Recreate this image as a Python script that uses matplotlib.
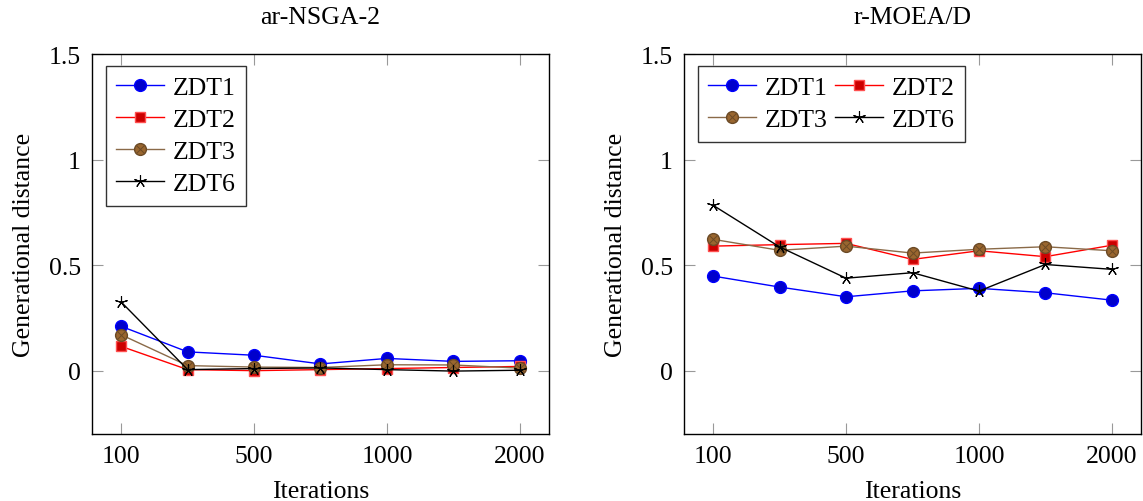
import matplotlib
matplotlib.use("Agg")
import matplotlib.pyplot as plt

plt.rcParams['font.family'] = ['Liberation Serif', 'DejaVu Serif']
plt.rcParams['mathtext.fontset'] = 'stix'

iter_positions = [0, 1, 2, 3, 4, 5, 6]
tick_positions = [0, 2, 4, 6]
tick_labels = ['100', '500', '1000', '2000']

nsga_zdt1 = [0.21, 0.089, 0.073, 0.032, 0.058, 0.044, 0.047]
nsga_zdt2 = [0.115, 0.005, 0.0, 0.005, 0.01, 0.015, 0.02]
nsga_zdt3 = [0.17, 0.024, 0.017, 0.015, 0.028, 0.027, 0.012]
nsga_zdt6 = [0.325, 0.005, 0.01, 0.013, 0.005, -0.002, 0.002]

moead_zdt1 = [0.448, 0.396, 0.35, 0.378, 0.39, 0.369, 0.334]
moead_zdt2 = [0.59, 0.597, 0.603, 0.527, 0.568, 0.54, 0.594]
moead_zdt3 = [0.622, 0.57, 0.59, 0.557, 0.575, 0.587, 0.568]
moead_zdt6 = [0.783, 0.586, 0.438, 0.464, 0.377, 0.503, 0.48]

W, H = 1143, 502
fig = plt.figure(figsize=(W / 100, H / 100), dpi=100)

FS = 18.5
brown_line = '#8a6a48'
brown_fill = '#99662f'
brown_edge = '#6b4a26'


def draw(ax, data, title, ncol):
    z1, z2, z3, z6 = data
    x = iter_positions
    h1, = ax.plot(x, z1, color='blue', lw=1.0, marker='o', ms=8.5,
                  mfc='#0000cc', mec='blue', zorder=3)
    h2, = ax.plot(x, z2, color='red', lw=1.0, marker='s', ms=7.5,
                  mfc='#cc0000', mec='#ff5050', zorder=3)
    h3, = ax.plot(x, z3, color=brown_line, lw=1.0, marker='o', ms=8.5,
                  mfc=brown_fill, mec=brown_edge, zorder=3)
    h3x, = ax.plot(x, z3, ls='none', marker='x', ms=5.5, mew=0.7,
                   color=brown_edge, zorder=3.1)
    h6, = ax.plot(x, z6, color='black', lw=1.0, marker=(5, 2, 0), ms=9,
                  mew=0.8, zorder=3.2)
    ax.set_xlim(-0.44, 6.44)
    ax.set_ylim(-0.3, 1.5)
    ax.set_xticks(tick_positions)
    ax.set_xticklabels(tick_labels)
    ax.set_yticks([0, 0.5, 1, 1.5])
    ax.set_yticklabels(['0', '0.5', '1', '1.5'])
    ax.tick_params(direction='in', length=8, width=0.8, color='#999999',
                   top=True, right=True, labelsize=FS, pad=8)
    for s in ax.spines.values():
        s.set_linewidth(1.0)
    ax.set_title(title, fontsize=FS, pad=22)
    ax.set_xlabel('Iterations', fontsize=FS, labelpad=9)
    ax.set_ylabel('Generational distance', fontsize=FS, labelpad=10)
    handles = [h1, h2, (h3, h3x), h6]
    labels = ['ZDT1', 'ZDT2', 'ZDT3', 'ZDT6']
    if ncol == 2:
        handles = [handles[0], handles[2], handles[1], handles[3]]
        labels = [labels[0], labels[2], labels[1], labels[3]]
    leg = ax.legend(handles, labels,
                    loc='upper left', bbox_to_anchor=(0.03, 0.968), ncol=ncol,
                    fontsize=FS, frameon=True, fancybox=False, numpoints=1,
                    handlelength=1.85, handletextpad=0.35, borderpad=0.4,
                    labelspacing=0.35, columnspacing=0.3, borderaxespad=0.0)
    leg.get_frame().set_edgecolor('black')
    leg.get_frame().set_linewidth(1.0)


ax1 = fig.add_axes([92 / W, (H - 435) / H, 457 / W, 380 / H])
draw(ax1, (nsga_zdt1, nsga_zdt2, nsga_zdt3, nsga_zdt6), 'ar-NSGA-2', 1)
ax2 = fig.add_axes([684 / W, (H - 435) / H, 457 / W, 380 / H])
draw(ax2, (moead_zdt1, moead_zdt2, moead_zdt3, moead_zdt6), 'r-MOEA/D', 2)

fig.savefig('out.png', dpi=100)
